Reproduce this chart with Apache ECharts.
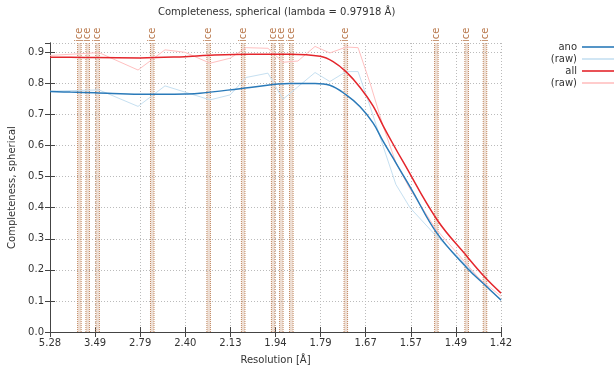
<!DOCTYPE html>
<html>
<head>
<meta charset="utf-8">
<script src="https://cdn.jsdelivr.net/npm/echarts@6/dist/echarts.min.js"></script>
<style>html,body{margin:0;padding:0;background:#fff}#c{width:614px;height:374px}</style>
</head>
<body>
<div id="c"></div>
<script>
// Tick labels (resolution, Å), evenly spaced in 1/d^2
const tickLabels = ['5.28','3.49','2.79','2.40','2.13','1.94','1.79','1.67','1.57','1.49','1.42'];
// Ice ring resolutions (Å)
const iceRings = [3.897, 3.669, 3.441, 2.671, 2.249, 2.072, 1.948, 1.918, 1.883, 1.721, 1.525, 1.473, 1.444];
const iceHalfWidth = 0.0018; // in 1/d^2

// Smoothed curves
const anoRes = [5.28, 4.20, 3.497, 2.799, 2.40, 2.301, 2.042, 1.888, 1.807, 1.764, 1.720, 1.685, 1.654, 1.632, 1.610, 1.589, 1.571, 1.524, 1.472, 1.444, 1.420];
const anoVal = [0.774, 0.772, 0.770, 0.765, 0.766, 0.768, 0.787, 0.800, 0.800, 0.794, 0.763, 0.725, 0.672, 0.615, 0.560, 0.505, 0.456, 0.318, 0.205, 0.151, 0.103];
const allRes = [5.28, 4.20, 3.497, 2.799, 2.40, 2.301, 2.042, 1.888, 1.792, 1.755, 1.720, 1.685, 1.654, 1.632, 1.610, 1.589, 1.524, 1.472, 1.444, 1.420];
const allVal = [0.884, 0.884, 0.883, 0.882, 0.886, 0.889, 0.894, 0.894, 0.887, 0.870, 0.837, 0.787, 0.727, 0.665, 0.605, 0.548, 0.362, 0.242, 0.176, 0.125];

// Raw (binned) values
const rawRes = [5.28, 3.413, 2.821, 2.555, 2.400, 2.241, 2.134, 2.059, 1.968, 1.912, 1.861, 1.807, 1.764, 1.720, 1.690, 1.661, 1.632, 1.604, 1.575, 1.527, 1.487, 1.452, 1.420];
const anoRaw = [0.775, 0.779, 0.726, 0.792, 0.772, 0.747, 0.763, 0.819, 0.833, 0.749, 0.789, 0.835, 0.806, 0.838, 0.838, 0.725, 0.600, 0.475, 0.400, 0.312, 0.242, 0.170, 0.100];
const allRaw = [0.890, 0.899, 0.843, 0.908, 0.900, 0.865, 0.881, 0.915, 0.913, 0.868, 0.872, 0.919, 0.898, 0.917, 0.915, 0.800, 0.665, 0.545, 0.460, 0.334, 0.250, 0.170, 0.115];

const s0 = 1 / Math.pow(parseFloat(tickLabels[0]), 2);
const s1 = 1 / Math.pow(parseFloat(tickLabels[tickLabels.length - 1]), 2);
const nT = tickLabels.length - 1;
const step = (s1 - s0) / nT;
const toU = d => (1 / (d * d) - s0) / step;
const pairs = (res, val) => res.map((d, i) => [toU(d), val[i]]);

const FONT = 'DejaVu Sans';
const yMax = 0.93;
const axisCol = '#444';
const lineIcon = 'path://M0,0 L32,0 L32,1.6 L0,1.6 Z';

const chart = echarts.init(document.getElementById('c'), null, {renderer: 'canvas'});
chart.setOption({
  animation: false,
  backgroundColor: '#fff',
  title: {
    text: 'Completeness, spherical (lambda = 0.97918 Å)',
    left: 153, top: 2,
    textStyle: {fontFamily: FONT, fontSize: 10, fontWeight: 'normal', color: '#333'}
  },
  legend: {
    orient: 'vertical', right: 0, top: 42, align: 'right',
    itemWidth: 32, itemHeight: 10, itemGap: 2, padding: 0,
    icon: lineIcon,
    data: ['ano', 'ano (raw)', 'all', 'all (raw)'],
    formatter: n => n.indexOf('(raw)') >= 0 ? '(raw)' : n,
    textStyle: {fontFamily: FONT, fontSize: 10, color: '#333'}
  },
  grid: {left: 50, right: 113, top: 43, bottom: 42, outerBoundsMode: 'none', containLabel: false},
  xAxis: [{
    type: 'value', min: 0, max: nT, interval: 1,
    name: 'Resolution [Å]', nameLocation: 'middle', nameGap: 23,
    nameTextStyle: {fontFamily: FONT, fontSize: 10, color: '#333'},
    axisLine: {lineStyle: {color: axisCol}},
    axisTick: {inside: true, length: 5, lineStyle: {color: axisCol}},
    axisLabel: {margin: 6, fontFamily: FONT, fontSize: 10, color: '#333',
      formatter: v => tickLabels[Math.round(v)] || ''},
    splitLine: {show: true, lineStyle: {color: '#bbb', type: [1, 2]}}
  }, {
    type: 'value', min: 0, max: nT, interval: 1, position: 'top',
    axisLine: {lineStyle: {color: axisCol}},
    axisTick: {inside: true, length: 5, lineStyle: {color: axisCol}},
    axisLabel: {show: false}, splitLine: {show: false}
  }],
  yAxis: [{
    type: 'value', min: 0, max: yMax, interval: 0.1,
    name: 'Completeness, spherical', nameLocation: 'middle', nameGap: 32, nameRotate: 90,
    nameTextStyle: {fontFamily: FONT, fontSize: 10, color: '#333'},
    axisLine: {show: true, lineStyle: {color: axisCol}},
    axisTick: {show: true, inside: true, length: 5, lineStyle: {color: axisCol}},
    axisLabel: {margin: 6, fontFamily: FONT, fontSize: 10, color: '#333', showMaxLabel: false,
      formatter: v => v.toFixed(1)},
    splitLine: {show: true, lineStyle: {color: '#bbb', type: [1, 2]}}
  }, {
    type: 'value', min: 0, max: yMax, interval: 0.1, position: 'right',
    axisLine: {show: true, lineStyle: {color: axisCol}},
    axisTick: {show: true, inside: true, length: 5, lineStyle: {color: axisCol}},
    axisLabel: {show: false}, splitLine: {show: false}
  }],
  series: [
    {
      type: 'custom', name: 'ice', clip: false, z: 1, silent: true,
      data: iceRings.map(d => [toU(d), 0]),
      encode: {x: 0, y: 1},
      renderItem: (params, api) => {
        const u = api.value(0);
        const du = iceHalfWidth / step;
        const top = api.coord([u, yMax]);
        const bot = api.coord([u, 0]);
        const xl = api.coord([u - du, 0])[0];
        const xr = api.coord([u + du, 0])[0];
        return {type: 'group', children: [
          {type: 'rect', shape: {x: xl, y: top[1], width: xr - xl, height: bot[1] - top[1]},
            style: {fill: 'rgba(200,150,115,0.30)'}},
          {type: 'line', shape: {x1: xl, y1: top[1], x2: xl, y2: bot[1]},
            style: {stroke: '#c0865e', lineWidth: 1, lineDash: [1, 1]}},
          {type: 'line', shape: {x1: xr, y1: top[1], x2: xr, y2: bot[1]},
            style: {stroke: '#c0865e', lineWidth: 1, lineDash: [1, 1]}},
          {type: 'text', x: top[0], y: top[1] - 1, rotation: Math.PI / 2,
            style: {text: 'ice', fill: '#b9784c', font: '10px "DejaVu Sans"', align: 'left', verticalAlign: 'middle'}}
        ]};
      }
    },
    {name: 'ano (raw)', type: 'line', data: pairs(rawRes, anoRaw), symbol: 'none', z: 2,
      lineStyle: {color: '#c6e0f1', width: 1}, itemStyle: {color: '#c6e0f1'}},
    {name: 'all (raw)', type: 'line', data: pairs(rawRes, allRaw), symbol: 'none', z: 2,
      lineStyle: {color: '#ffc0c0', width: 1}, itemStyle: {color: '#ffc0c0'}},
    {name: 'ano', type: 'line', data: pairs(anoRes, anoVal), symbol: 'none', smooth: 0.4, z: 3,
      lineStyle: {color: '#2a7ab9', width: 1.5}, itemStyle: {color: '#2a7ab9'}},
    {name: 'all', type: 'line', data: pairs(allRes, allVal), symbol: 'none', smooth: 0.4, z: 3,
      lineStyle: {color: '#e4262c', width: 1.5}, itemStyle: {color: '#e4262c'}}
  ]
});
</script>
</body>
</html>
